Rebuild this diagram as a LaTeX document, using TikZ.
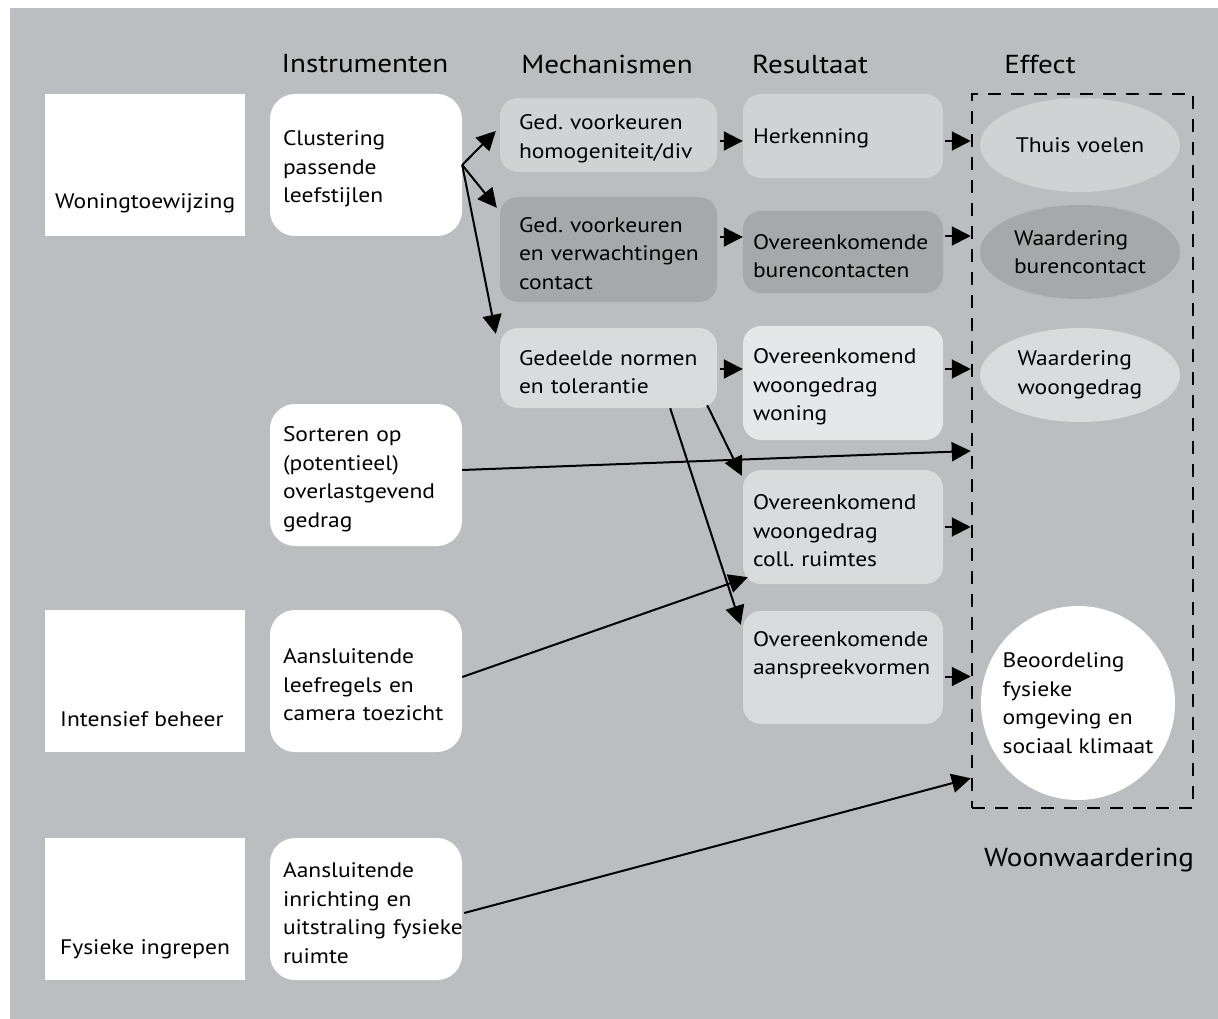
\documentclass[tikz,border=0pt]{standalone}
\usepackage{fontspec}
\setmainfont{PT Sans}[FakeStretch=1.12]
\usetikzlibrary{arrows.meta,shapes.geometric,calc}
\frenchspacing
\definecolor{bg}{HTML}{BCBDC0}
\definecolor{lightbox}{HTML}{D1D2D4}
\definecolor{darkbox}{HTML}{A7A8AB}
\definecolor{palebox}{HTML}{E6E7E8}
\definecolor{midbox}{HTML}{DADBDD}
\tikzset{
  body/.style={font=\fontsize{21}{28.5}\selectfont, text=black},
  head/.style={font=\fontsize{26}{30}\selectfont, text=black},
  lower/.style={execute at end node={\par\vspace{-8pt}}},
  leftbox/.style={fill=white, minimum width=200pt, minimum height=142pt, inner sep=0pt},
  instbox/.style={body, lower, fill=white, rounded corners=25pt, minimum height=142pt,
    text width=166pt, inner xsep=13pt, inner ysep=0pt, align=left},
  mechbox/.style={body, lower, rounded corners=18pt, text width=179pt, inner xsep=19pt,
    inner ysep=0pt, align=left},
  resbox/.style={body, lower, rounded corners=18pt, text width=180pt, inner xsep=10pt,
    inner ysep=0pt, align=left},
  effell/.style={body, ellipse, minimum width=200pt, minimum height=94pt, inner sep=0pt, align=left},
  arr/.style={line width=2pt, -{Triangle[length=19pt,width=19pt]}},
}
\begin{document}
\begin{tikzpicture}[x=1pt,y=-1pt]
\useasboundingbox (0,0) rectangle (1218,1019);
\fill[bg] (10,8) rectangle (1218,1019);

% headers
\node[head] (hInst) at (365,64) {Instrumenten};
\node[head] (hMech) at (607,64) {Mechanismen};
\node[head] (hRes) at (810,64) {Resultaat};
\node[head] (hEff) at (1040,64) {Effect};
\node[head] (hWoon) at (1089,860) {Woonwaardering};

% left boxes
\node[leftbox] (woning) at (145,165) {};
\node[leftbox] (beheer) at (145,681) {};
\node[leftbox] (fysiek) at (145,909) {};
\node[body, anchor=base west, inner sep=0pt] (woningT) at (55,208) {Woningtoewijzing};
\node[body, anchor=base west, inner sep=0pt] (beheerT) at (60,726) {Intensief beheer};
\node[body, anchor=base west, inner sep=0pt] (fysiekT) at (60,954) {Fysieke ingrepen};

% instruments
\node[instbox] (clus) at (366,165) {Clustering\\passende\\leefstijlen};
\node[instbox] (sort) at (366,475) {Sorteren op\\(potentieel)\\overlastgevend\\gedrag};
\node[instbox] (leef) at (366,681) {Aansluitende\\leefregels en\\camera toezicht};
\node[instbox] (inr) at (366,909) {Aansluitende\\inrichting en\\\mbox{uitstraling fysieke}\\ruimte};

% mechanisms
\node[mechbox, fill=lightbox, minimum height=74pt] (m1) at (608.5,135) {Ged. voorkeuren\\homogeniteit/div};
\node[mechbox, fill=darkbox, minimum height=105pt] (m2) at (608.5,249.5) {Ged. voorkeuren\\\mbox{en verwachtingen}\\contact};
\node[mechbox, fill=midbox, minimum height=80pt] (m3) at (608.5,368) {Gedeelde normen\\en tolerantie};

% results
\node[resbox, fill=lightbox, minimum height=84pt] (r1) at (843,136) {Herkenning};
\node[resbox, fill=darkbox, minimum height=82pt] (r2) at (843,252) {\mbox{Overeenkomende}\\burencontacten};
\node[resbox, fill=palebox, minimum height=114pt] (r3) at (843,383) {Overeenkomend\\woongedrag\\woning};
\node[resbox, fill=midbox, minimum height=114pt] (r4) at (843,527) {Overeenkomend\\woongedrag\\coll. ruimtes};
\node[resbox, fill=midbox, minimum height=113pt] (r5) at (843,667.5) {\mbox{Overeenkomende}\\\mbox{aanspreekvormen}\\\strut};

% effect box
\node[draw=black, line width=2.5pt, dash pattern=on 13pt off 10pt, minimum width=221pt,
  minimum height=714pt, inner sep=0pt] (eff) at (1082.5,451) {};
\node[effell, fill=lightbox] (e1) at (1080,145) {Thuis voelen};
\node[effell, fill=darkbox] (e2) at (1080,252) {Waardering\\burencontact};
\node[effell, fill=midbox] (e3) at (1080,375) {Waardering\\woongedrag};
\node[body, circle, fill=white, minimum size=194pt, inner sep=0pt, align=left] (e4) at (1078,703)
  {Beoordeling\\fysieke\\omgeving en\\sociaal klimaat};

% arrows: instruments to mechanisms
\draw[arr] (clus.east) -- ($(m1.west)+(-4,-4)$);
\draw[arr] (clus.east) -- ($(m2.north west)+(-3,11)$);
\draw[arr] (clus.east) -- ($(m3.north west)+(-4,6)$);

% mechanisms to results
\draw[arr] ($(m1.east)+(3,6)$) -- ($(r1.west)+(0,5)$);
\draw[arr] ($(m2.east)+(3,-12.5)$) -- ($(r2.west)+(0,-15)$);
\draw[arr] ($(m3.east)+(3,1)$) -- ($(r3.west)+(0,-14)$);
\draw[arr] ($(m3.south east)+(-10,-3)$) -- ($(r4.north west)+(-1,6)$);
\draw[arr] ($(m3.south east)+(-47,0)$) -- ($(r5.north west)+(-2,14)$);

% results to effect
\draw[arr] ($(r1.east)+(2,5)$) -- ($(r1.east -| eff.west)+(0,5)$);
\draw[arr] ($(r2.east)+(2,-16)$) -- ($(r2.east -| eff.west)+(0,-16)$);
\draw[arr] ($(r3.east)+(2,-14)$) -- ($(r3.east -| eff.west)+(0,-14)$);
\draw[arr] ($(r4.east)+(2,0)$) -- (r4.east -| eff.west);
\draw[arr] ($(r5.east)+(2,9)$) -- ($(r5.east -| eff.west)+(0,9)$);

% long arrows
\draw[arr] ($(sort.east)+(0,-5)$) -- (eff.west);
\draw[arr] ($(leef.east)+(0,-4)$) -- ($(r4.south west)+(5,-7)$);
\draw[arr] ($(inr.east)+(2,4)$) -- ($(eff.south west)+(0,-31)$);
\end{tikzpicture}
\end{document}
